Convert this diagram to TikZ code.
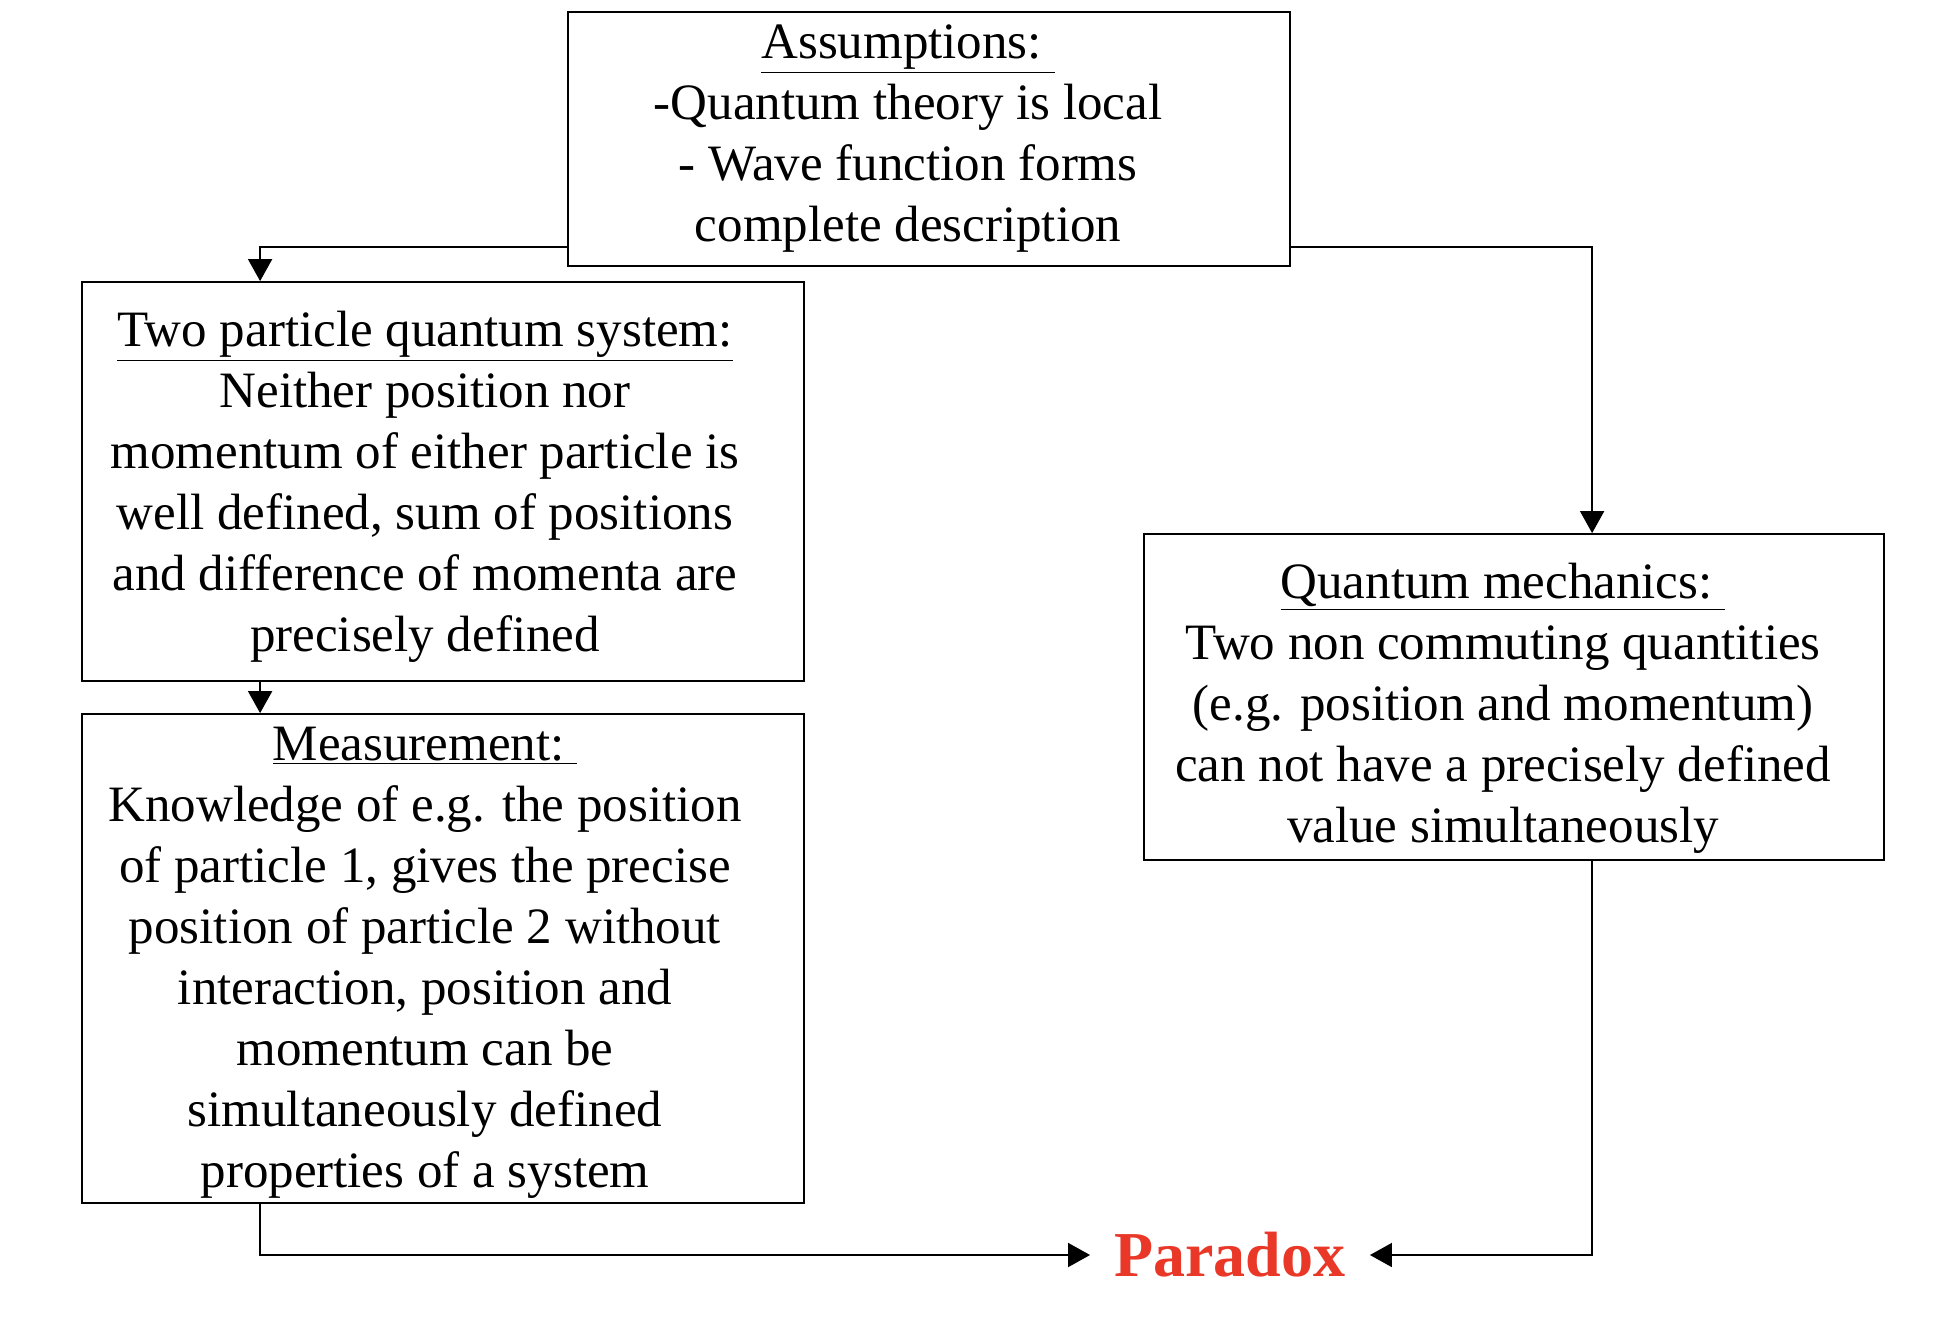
\documentclass[tikz,border=0pt]{standalone}
\usepackage{fontspec}
\setmainfont{Liberation Serif}
\usetikzlibrary{arrows.meta,calc}
\definecolor{pred}{RGB}{234,56,40}
\begin{document}
\begin{tikzpicture}[x=0.5pt,y=-0.5pt,
  box/.style={draw,line width=0.9pt,inner sep=0pt},
  txt/.style={align=center,inner sep=0pt,font=\fontsize{25.5pt}{30.5pt}\selectfont},
  arr/.style={line width=0.9pt,-{Triangle[length=11pt,width=12pt]}}]
\useasboundingbox[fill=white] (0,0) rectangle (1958,1328);
\node[box,minimum width=361pt,minimum height=127pt] (A) at (929,139) {};
\node[txt] (At) at (908,139)
  {\underline{Assumptions:~}\\-Quantum theory is local\\- Wave function forms\\complete description};
\node[box,minimum width=361pt,minimum height=199.5pt] (T) at (443,481.5) {};
\node[txt] (Tt) at (425,486.5)
  {\underline{Two particle quantum system:}\\Neither position nor\\momentum of either particle is\\well defined, sum of positions\\and difference of momenta are\\precisely defined};
\node[box,minimum width=361pt,minimum height=244.5pt] (M) at (443,958.5) {};
\node[txt] (Mt) at (425,962.5)
  {\underline{Measurement:~}\\Knowledge of e.g. the position\\of particle 1, gives the precise\\position of particle 2 without\\interaction, position and\\momentum can be\\simultaneously defined\\properties of a system};
\node[box,minimum width=370pt,minimum height=163pt] (Q) at (1514,697) {};
\node[txt] (Qt) at (1503,708)
  {\underline{Quantum mechanics:~}\\Two non commuting quantities\\(e.g. position and momentum)\\can not have a precisely defined\\value simultaneously};
\node[font=\bfseries\fontsize{32pt}{36pt}\selectfont,text=pred,inner xsep=12pt,inner ysep=0pt] (P) at (1230,1255) {Paradox};
\draw[arr] ($(A.south west)+(0,-20)$) -| ($(T.north west)+(179,0)$);
\draw[arr] ($(A.south east)+(0,-20)$) -| ($(Q.north west)+(449,0)$);
\draw[arr] ($(T.south west)+(179,0)$) -- ($(M.north west)+(179,0)$);
\draw[arr] ($(M.south west)+(179,0)$) |- (P.west);
\draw[arr] ($(Q.south west)+(449,0)$) |- (P.east);
\end{tikzpicture}
\end{document}
